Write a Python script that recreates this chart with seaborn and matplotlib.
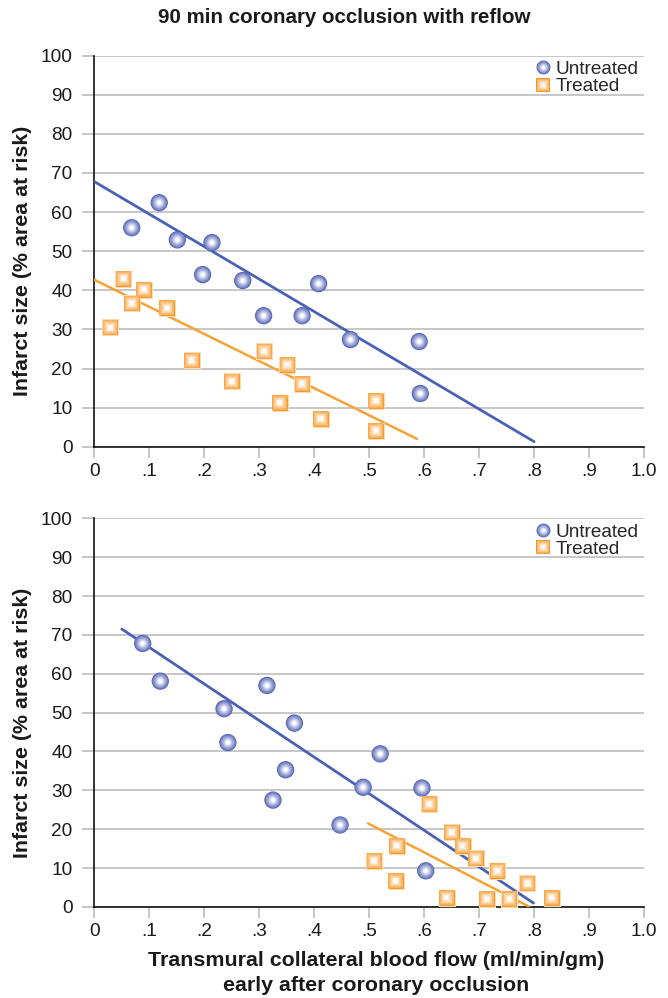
import matplotlib
matplotlib.use("Agg")
import numpy as np
import pandas as pd
import seaborn as sns
import matplotlib.pyplot as plt
from matplotlib.lines import Line2D
from matplotlib.legend_handler import HandlerTuple
from matplotlib.colors import to_rgb

# ---------------- data ----------------
TITLE = "90 min coronary occlusion with reflow"
Y_LABEL = "Infarct size (% area at risk)"
X_LABEL = "Transmural collateral blood flow (ml/min/gm)\nearly after coronary occlusion"
GROUPS = ["Untreated", "Treated"]
X_TICKS = [0.0, 0.1, 0.2, 0.3, 0.4, 0.5, 0.6, 0.7, 0.8, 0.9, 1.0]
X_TICK_LABELS = ["0", ".1", ".2", ".3", ".4", ".5", ".6", ".7", ".8", ".9", "1.0"]
Y_TICKS = [0, 10, 20, 30, 40, 50, 60, 70, 80, 90, 100]

top_untreated_flow = [0.068, 0.118, 0.151, 0.214, 0.197, 0.270, 0.308, 0.378, 0.408, 0.466, 0.591, 0.593]
top_untreated_size = [56.0, 62.4, 52.9, 52.2, 44.0, 42.5, 33.5, 33.5, 41.7, 27.4, 26.9, 13.6]
top_treated_flow = [0.029, 0.053, 0.068, 0.090, 0.132, 0.177, 0.250, 0.309, 0.351, 0.378, 0.337, 0.412, 0.512, 0.512]
top_treated_size = [30.5, 43.0, 36.7, 40.2, 35.5, 22.1, 16.7, 24.4, 21.0, 16.1, 11.3, 7.2, 11.8, 4.1]
top_untreated_fit_flow = [0.0, 0.80]
top_untreated_fit_size = [67.8, 1.3]
top_treated_fit_flow = [0.0, 0.587]
top_treated_fit_size = [42.7, 2.0]

bottom_untreated_flow = [0.088, 0.120, 0.314, 0.236, 0.364, 0.243, 0.348, 0.325, 0.489, 0.520, 0.447, 0.596, 0.603]
bottom_untreated_size = [67.8, 58.1, 57.0, 51.0, 47.3, 42.3, 35.3, 27.5, 30.8, 39.4, 21.1, 30.6, 9.3]
bottom_treated_flow = [0.609, 0.650, 0.670, 0.694, 0.733, 0.788, 0.832, 0.755, 0.714, 0.641, 0.550, 0.509, 0.548]
bottom_treated_size = [26.5, 19.2, 15.7, 12.5, 9.3, 6.1, 2.4, 2.1, 2.1, 2.4, 15.8, 11.9, 6.7]
bottom_untreated_fit_flow = [0.050, 0.799]
bottom_untreated_fit_size = [71.5, 1.0]
bottom_treated_fit_flow = [0.498, 0.791]
bottom_treated_fit_size = [21.5, 0.1]

# ---------------- style ----------------
sns.set_theme(style="white")
plt.rcParams["font.family"] = ["Liberation Sans", "DejaVu Sans"]

BLUE_EDGE = "#4c5db4"
BLUE_LINE = "#4a62b6"
ORANGE_EDGE = "#f6982a"
ORANGE_LINE = "#f7a234"
GRID = "#bdbdbd"
TEXT = "#1a1a1a"

STYLE = {
    "Untreated": dict(marker="o", color=BLUE_EDGE, size=155, line=BLUE_LINE, lw=2.0),
    "Treated": dict(marker="s", color=ORANGE_EDGE, size=135, line=ORANGE_LINE, lw=1.8),
}


def mix(c, t):
    r, g, b = to_rgb(c)
    return (r + (1 - r) * t, g + (1 - g) * t, b + (1 - b) * t)


N_LAYERS = 14


def layer(i):
    f = i / (N_LAYERS - 1)
    scale = 1 - 0.85 * f
    t = min(1.0, 0.12 + 0.95 * f ** 1.15)
    if i == 0:
        t = 0.0
    return scale, t


def gradient_scatter(ax, df, group):
    st = STYLE[group]
    d = df[df["group"] == group]
    for i in range(N_LAYERS):
        scale, t = layer(i)
        kw = dict(edgecolor="none", linewidth=0)
        if i == 0 and group == "Treated":
            kw = dict(edgecolor="#fcdcae", linewidth=0.8)
        sns.scatterplot(data=d, x="flow", y="size", marker=st["marker"],
                        s=st["size"] * scale ** 2, color=mix(st["color"], t),
                        ax=ax, legend=False, zorder=4 + i * 0.01, clip_on=False, **kw)


def legend_handle(group, ms):
    st = STYLE[group]
    hs = []
    for i in range(N_LAYERS):
        scale, t = layer(i)
        hs.append(Line2D([], [], linestyle="none", marker=st["marker"],
                         markersize=ms * scale, markerfacecolor=mix(st["color"], t),
                         markeredgewidth=0))
    return tuple(hs)


def panel(ax, points, fits):
    df = pd.DataFrame(points)
    for grp, fx, fy in fits:
        sns.lineplot(x=fx, y=fy, color=STYLE[grp]["line"], lw=STYLE[grp]["lw"],
                     ax=ax, zorder=3, legend=False)
    for grp in ["Untreated", "Treated"]:
        gradient_scatter(ax, df, grp)

    ax.set_xlim(0, 1.0)
    ax.set_ylim(0, 100)
    ax.set_xticks(X_TICKS)
    ax.set_xticklabels(X_TICK_LABELS)
    ax.set_yticks(Y_TICKS)
    ax.set_yticklabels([str(v) for v in Y_TICKS])
    ax.set_xlabel("")
    ax.set_ylabel("")
    ax.set_axisbelow(True)
    ax.yaxis.grid(True, color=GRID, lw=1.2)
    ax.xaxis.grid(False)
    for s in ["top", "right"]:
        ax.spines[s].set_visible(False)
    for s in ["left", "bottom"]:
        ax.spines[s].set_color("#111111")
        ax.spines[s].set_linewidth(1.2)
        ax.spines[s].set_zorder(2.5)
    ax.tick_params(axis="y", length=8.8, width=1.2, color=GRID, pad=7,
                   labelsize=13.7, labelcolor=TEXT, left=True)
    ax.tick_params(axis="x", length=8, width=1.2, color=GRID, pad=3.5,
                   labelsize=13.7, labelcolor=TEXT, bottom=True)

    handles = [legend_handle(g, 10.0) for g in GROUPS]
    ax.legend(handles, GROUPS, loc="upper left", bbox_to_anchor=(0.800, 0.987),
              frameon=False, fontsize=13.7, handlelength=0.95, handletextpad=0.2,
              labelspacing=0.0, borderpad=0, borderaxespad=0,
              handler_map={tuple: HandlerTuple(ndivide=1, pad=0)})


fig = plt.figure(figsize=(6.68, 9.98), dpi=100)
ax1 = fig.add_axes([0.1412, 0.5524, 0.8229, 0.3918])
ax2 = fig.add_axes([0.1412, 0.0912, 0.8229, 0.3895])

top_points = {
    "flow": top_untreated_flow + top_treated_flow,
    "size": top_untreated_size + top_treated_size,
    "group": ["Untreated"] * len(top_untreated_flow) + ["Treated"] * len(top_treated_flow),
}
bottom_points = {
    "flow": bottom_untreated_flow + bottom_treated_flow,
    "size": bottom_untreated_size + bottom_treated_size,
    "group": ["Untreated"] * len(bottom_untreated_flow) + ["Treated"] * len(bottom_treated_flow),
}

panel(ax1, top_points, [("Untreated", top_untreated_fit_flow, top_untreated_fit_size),
                        ("Treated", top_treated_fit_flow, top_treated_fit_size)])
panel(ax2, bottom_points, [("Untreated", bottom_untreated_fit_flow, bottom_untreated_fit_size),
                           ("Treated", bottom_treated_fit_flow, bottom_treated_fit_size)])

fig.text(0.515, 0.982, TITLE, ha="center", va="center", fontsize=14.8,
         fontweight="bold", color=TEXT)
fig.text(0.033, 0.7385, Y_LABEL, ha="center", va="center", rotation=90,
         fontsize=15.4, fontweight="bold", color=TEXT)
fig.text(0.033, 0.2756, Y_LABEL, ha="center", va="center", rotation=90,
         fontsize=15.4, fontweight="bold", color=TEXT)
fig.text(0.563, 0.0255, X_LABEL, ha="center", va="center", fontsize=15.4,
         fontweight="bold", color=TEXT, linespacing=1.4)

fig.savefig("out.png", dpi=100)
